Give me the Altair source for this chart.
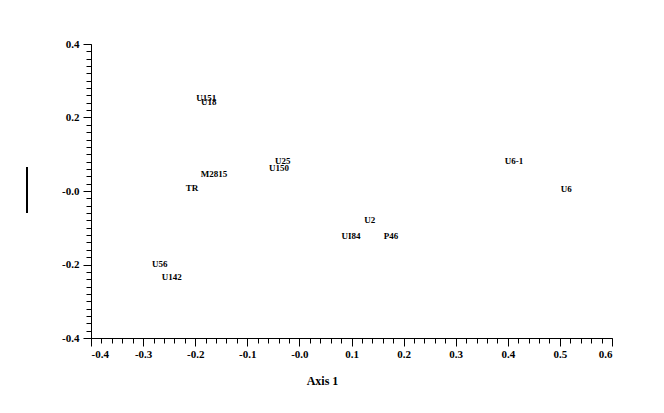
import altair as alt
import pandas as pd

labels = ["U151", "U18", "U25", "U150", "M2815", "TR", "U6-1", "U6", "U2", "UI84", "P46", "U56", "U142"]
axis1 = [-0.179, -0.174, -0.032, -0.039, -0.164, -0.206, 0.412, 0.512, 0.135, 0.099, 0.176, -0.268, -0.245]
axis2 = [0.253, 0.242, 0.082, 0.063, 0.046, 0.008, 0.082, 0.005, -0.079, -0.122, -0.122, -0.199, -0.234]

x_major = [-0.4, -0.3, -0.2, -0.1, 0.0, 0.1, 0.2, 0.3, 0.4, 0.5, 0.6]
y_major = [-0.4, -0.2, 0.0, 0.2, 0.4]
x_minor = [round(-0.4 + 0.02 * i, 2) for i in range(51)]
y_minor = [round(-0.4 + 0.02 * i, 2) for i in range(41)]

df = pd.DataFrame({"label": labels, "a1": axis1, "a2": axis2})

FONT = "Liberation Serif"
lab_expr = "datum.value == 0 ? '-0.0' : (datum.value < 0 ? '-' + format(-datum.value, '.1f') : format(datum.value, '.1f'))"

xs = alt.Scale(domain=[-0.4, 0.6], nice=False, zero=False)
ys = alt.Scale(domain=[-0.4, 0.4], nice=False, zero=False)

main = alt.Chart(df).mark_text(font=FONT, fontSize=9, fontWeight="bold", color="black",
                               align="center", baseline="middle").encode(
    x=alt.X("a1:Q", scale=xs, axis=alt.Axis(
        orient="bottom", values=x_major, tickSize=8, labelPadding=2, grid=False,
        labelExpr=lab_expr, labelFont=FONT, labelFontSize=11, labelFontWeight="bold",
        labelColor="black", domainColor="black", tickColor="black",
        title="Axis 1", titleFont=FONT, titleFontSize=12, titleFontWeight="bold",
        titleColor="black", titleX=231, titleY=37, titleAlign="center")),
    y=alt.Y("a2:Q", scale=ys, axis=alt.Axis(
        orient="left", values=y_major, tickSize=8, labelPadding=4, grid=False,
        labelExpr=lab_expr, labelFont=FONT, labelFontSize=11, labelFontWeight="bold",
        labelColor="black", domainColor="black", tickColor="black", title=None)),
    text="label:N",
)

minor = alt.Chart(df).mark_point(opacity=0).encode(
    x=alt.X("a1:Q", scale=xs, axis=alt.Axis(
        orient="bottom", values=x_minor, tickSize=5, labels=False, domain=False,
        grid=False, tickColor="black", title=None)),
    y=alt.Y("a2:Q", scale=ys, axis=alt.Axis(
        orient="left", values=y_minor, tickSize=5, labels=False, domain=False,
        grid=False, tickColor="black", title=None)),
)

bar = alt.Chart(pd.DataFrame({"k": [0]})).mark_rule(color="black", strokeWidth=2).encode(
    x=alt.value(-64), y=alt.value(123), y2=alt.value(169))

chart = alt.layer(main, minor, bar).resolve_axis(x="independent", y="independent").properties(
    width=521, height=294,
    autosize=alt.AutoSizeParams(type="none"),
    padding={"left": 83, "top": 36, "right": 44, "bottom": 67},
).configure_view(stroke=None)

chart.save("out.html", embed_options={"renderer": "svg", "actions": False})
